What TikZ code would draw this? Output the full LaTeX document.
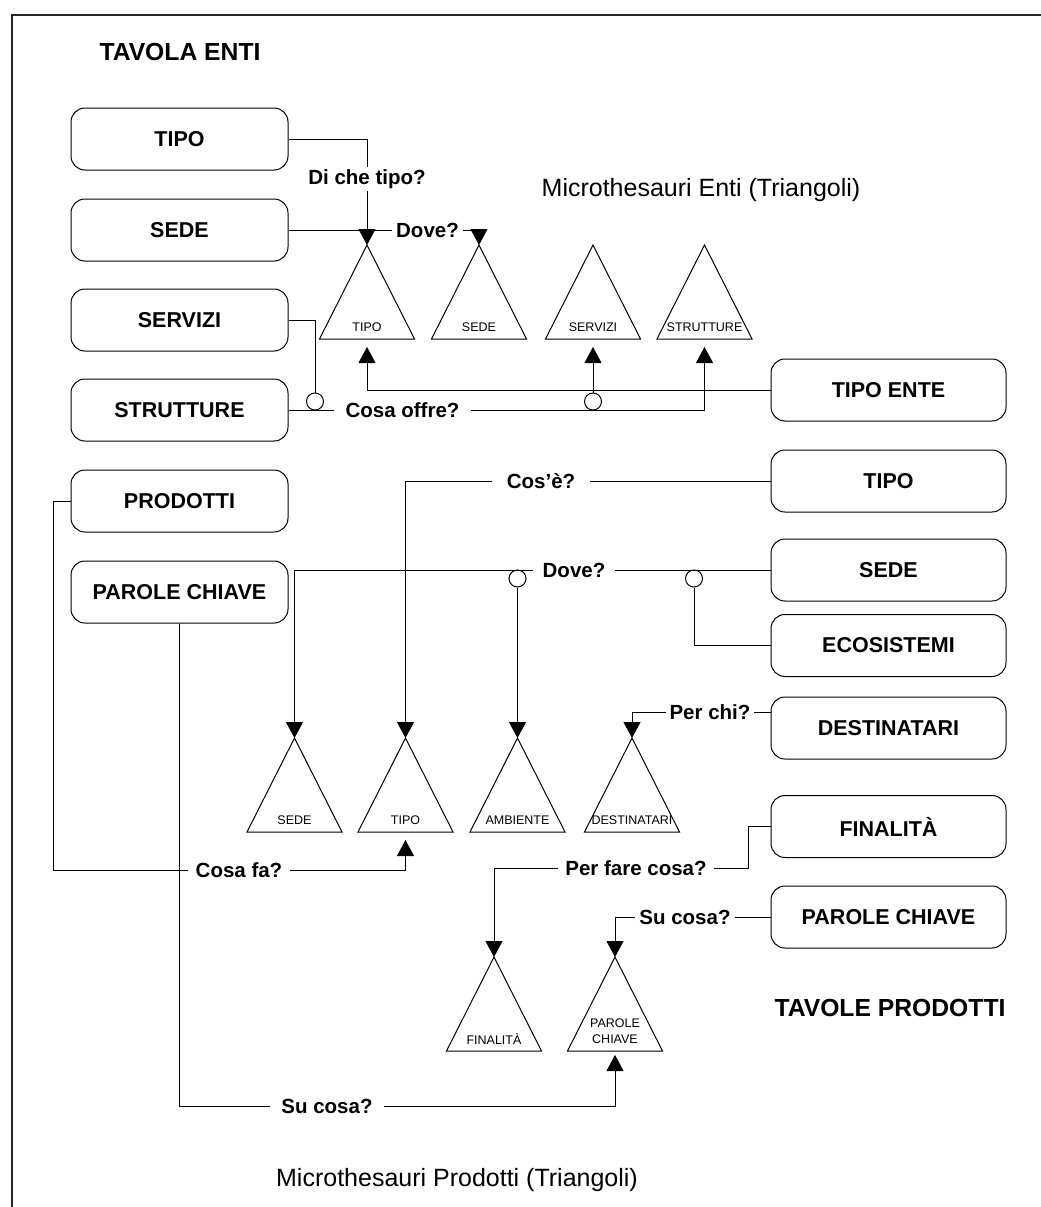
\documentclass[tikz,border=0pt]{standalone}
\usepackage{fontspec}
\setmainfont{Liberation Sans}
\usetikzlibrary{arrows.meta}

\begin{document}
\begin{tikzpicture}[x=1pt,y=-1pt,
  box/.style={draw, rounded corners=14pt, minimum width=217pt, minimum height=62pt,
    inner sep=0pt, line width=1pt, font=\fontsize{21.5}{24}\selectfont\bfseries},
  rbox/.style={box, minimum width=235pt},
  link/.style={line width=1pt},
  arr/.style={link, -{Triangle[width=17pt,length=16pt]}},
  ask/.style={fill=white, inner ysep=2pt, font=\fontsize{20.5}{23}\selectfont\bfseries},
  tri/.style={line width=1pt},
  trilabel/.style={inner sep=0pt, font=\fontsize{12.5}{16}\selectfont},
  junc/.style={draw, fill=white, circle, minimum size=17pt, inner sep=0pt, line width=1pt},
  title/.style={font=\fontsize{24.7}{28}\selectfont\bfseries},
  caption/.style={font=\fontsize{25}{28}\selectfont}
]
\useasboundingbox (0,0) rectangle (1041,1207);

% frame
\draw[line width=2.5pt, black!85] (1041,15) -- (12,15) -- (12,1207);

% titles and captions
\node[title] at (180,52) {TAVOLA ENTI};
\node[title] at (890,1008) {TAVOLE PRODOTTI};
\node[caption] at (701,190) {Microthesauri Enti (Triangoli)};
\node[caption] at (457,1180) {Microthesauri Prodotti (Triangoli)};

% table of entities (left column)
\node[box] (lTipo)      at (179.5,139) {TIPO};
\node[box] (lSede)      at (179.5,230) {SEDE};
\node[box] (lServizi)   at (179.5,320) {SERVIZI};
\node[box] (lStrutture) at (179.5,410) {STRUTTURE};
\node[box] (lProdotti)  at (179.5,501) {PRODOTTI};
\node[box] (lParole)    at (179.5,592) {PAROLE CHIAVE};

% right column
\node[rbox] (rTipoEnte) at (888.5,390)   {TIPO ENTE};
\node[rbox] (rTipo)     at (888.5,481)   {TIPO};
\node[rbox] (rSede)     at (888.5,570)   {SEDE};
\node[rbox] (rEco)      at (888.5,645.5) {ECOSISTEMI};
\node[rbox] (rDest)     at (888.5,728)   {DESTINATARI};
\node[rbox] (rFin)      at (888.5,826.5) {FINALITÀ};
\node[rbox] (rParole)   at (888.5,917)   {PAROLE CHIAVE};

% microthesauri: apex coordinate, point just below the base, label
\foreach \n/\x/\y/\t in {tTipo/367/245/TIPO, tSede/479/245/SEDE,
    tServizi/593/245/SERVIZI, tStrutture/704.5/245/STRUTTURE,
    pSede/294.5/738/SEDE, pTipo/405.5/738/TIPO, pAmb/517.5/738/AMBIENTE,
    pDest/632/738/DESTINATARI, pFin/494/957/FINALITÀ}
{
  \draw[tri] (\x,\y) coordinate (\n) -- ++(-47.5,94) -- ++(95,0) -- cycle;
  \coordinate (\n-u) at (\x,\y+102);
  \node[trilabel] at (\x,\y+82) {\t};
}
\draw[tri] (615,957) coordinate (pParole) -- ++(-47.5,94) -- ++(95,0) -- cycle;
\coordinate (pParole-u) at (615,1055);
\node[trilabel, align=center] at (615,1031) {PAROLE\\CHIAVE};

% junctions
\node[junc] (j1) at (315,401.5) {};
\node[junc] (j2) at (593,401.5) {};
\node[junc] (j3) at (517.5,578.5) {};
\node[junc] (j4) at (694,578.5) {};

% connectors, entities
\draw[arr] (lTipo.east) -| (tTipo);
\draw[arr] (lSede.east) -| (tSede);
\draw[arr] (rTipoEnte.west) -| (tTipo-u);
\draw[arr] (lStrutture.east) -| (tStrutture-u);
\draw[link] (lServizi.east) -| (j1.north);
\draw[arr] (j2.north) -- (tServizi-u);

% connectors, products
\draw[arr] (rTipo.west) -| (pTipo);
\draw[arr] (rSede.west) -| (pSede);
\draw[arr] (j3.south) -- (pAmb);
\draw[link] (j4.south) |- (rEco.west);
\draw[arr] ([yshift=16pt]rDest.west) -| (pDest);
\coordinate (cf) at (53,870);
\draw[arr] (lProdotti.west) -| (cf) -| (pTipo-u);
\coordinate (sc) at (179.5,1106);
\draw[arr] (lParole.south) -- (sc) -| (pParole-u);
\coordinate (pf) at (748,868);
\draw[arr] (rFin.west) -| (pf) -| (pFin);
\draw[arr] (rParole.west) -| (pParole);

% questions on the connectors
\node[ask, inner xsep=4pt]  at (367,179)    {Di che tipo?};
\node[ask, inner xsep=4pt]  at (427.5,230)  {Dove?};
\node[ask, inner xsep=12pt] at (402.5,410)  {Cosa offre?};
\node[ask, inner xsep=15pt] at (541,481)    {Cos’è?};
\node[ask, inner xsep=10pt] at (574,570)    {Dove?};
\node[ask, inner xsep=4pt]  at (710,712)    {Per chi?};
\node[ask, inner xsep=8pt]  at (239,870)    {Cosa fa?};
\node[ask, inner xsep=7pt]  at (636,868)    {Per fare cosa?};
\node[ask, inner xsep=4pt]  at (685,917)    {Su cosa?};
\node[ask, inner xsep=11pt] at (327,1106)   {Su cosa?};
\end{tikzpicture}
\end{document}
